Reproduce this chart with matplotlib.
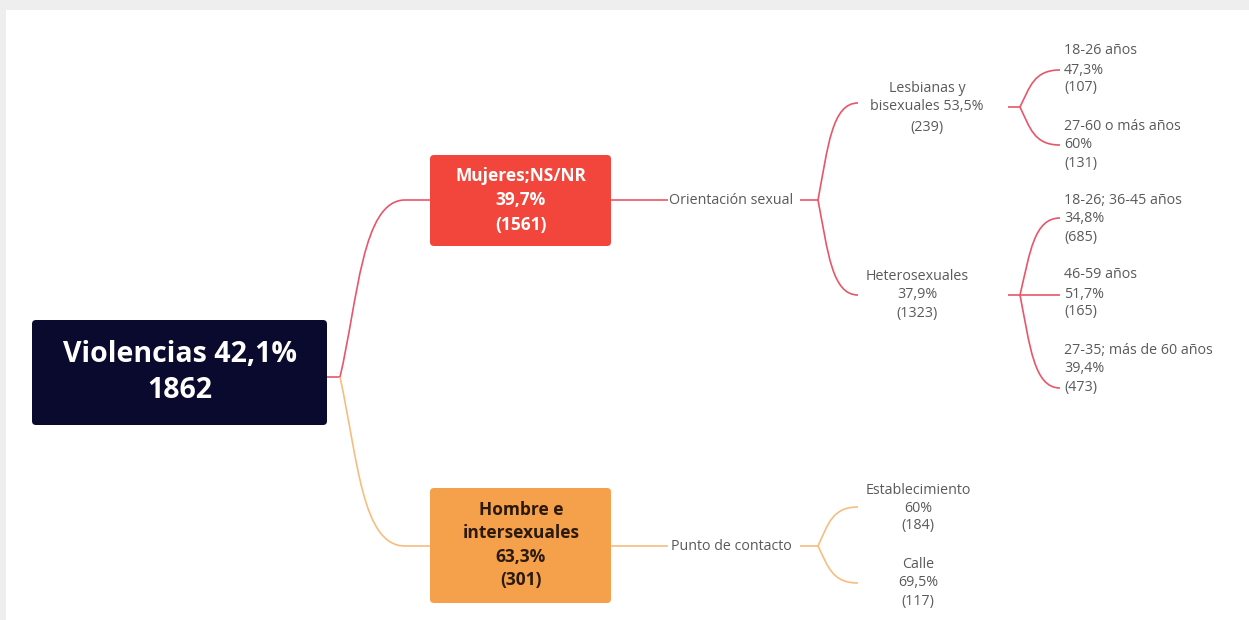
import matplotlib
matplotlib.use("Agg")
import matplotlib.pyplot as plt
from matplotlib.patches import FancyBboxPatch, PathPatch, Rectangle
from matplotlib.path import Path

# ---------------- data ----------------
root_label = ["Violencias 42,1%", "1862"]
level1_labels = [["Mujeres;NS/NR", "39,7%", "(1561)"],
                 ["Hombre e", "intersexuales", "63,3%", "(301)"]]
level2_labels = ["Orientación sexual", "Punto de contacto"]
orient_groups = [["Lesbianas y", "bisexuales 53,5%", "(239)"],
                 ["Heterosexuales", "37,9%", "(1323)"]]
lesb_ages = [["18-26 años", "47,3%", "(107)"],
             ["27-60 o más años", "60%", "(131)"]]
hetero_ages = [["18-26; 36-45 años", "34,8%", "(685)"],
               ["46-59 años", "51,7%", "(165)"],
               ["27-35; más de 60 años", "39,4%", "(473)"]]
contact_points = [["Establecimiento", "60%", "(184)"],
                  ["Calle", "69,5%", "(117)"]]

# ---------------- style ----------------
W, H = 1249, 620
RED = "#f2453b"
ORANGE = "#f5a04a"
NAVY = "#0a0a2e"
RED_LINE = "#e8566a"
ORANGE_LINE = "#f6bd80"
GRAY_TXT = "#5a5a5a"
FONT = ["Open Sans", "DejaVu Sans"]
SMALL = 10.3

fig = plt.figure(figsize=(W / 100, H / 100), dpi=100)
fig.patch.set_facecolor("#eeeeee")
ax = fig.add_axes([0, 0, 1, 1])
ax.set_xlim(0, W)
ax.set_ylim(H, 0)
ax.axis("off")

# white panel
ax.add_patch(Rectangle((6, 10), W - 6, H - 10, facecolor="white", edgecolor="none", zorder=0))


def box(x0, y0, x1, y1, color):
    ax.add_patch(FancyBboxPatch((x0 + 4, y0 + 4), x1 - x0 - 8, y1 - y0 - 8,
                                boxstyle="round,pad=4", facecolor=color,
                                edgecolor="none", zorder=3))


def lines_text(x, ys, labels, **kw):
    for y, t in zip(ys, labels):
        ax.text(x, y, t, va="center", family=FONT, zorder=4, **kw)


def curve(p0, p1, color):
    """bracket-like curve from junction p0 to horizontal end p1"""
    (x0, y0), (x1, y1) = p0, p1
    dx = x1 - x0
    verts = [(x0, y0),
             (x0 + dx * 0.25, y0 + (y1 - y0) * 0.55),
             (x0 + dx * 0.35, y1),
             (x1, y1)]
    codes = [Path.MOVETO, Path.CURVE4, Path.CURVE4, Path.CURVE4]
    ax.add_patch(PathPatch(Path(verts, codes), facecolor="none",
                           edgecolor=color, lw=1.2, zorder=2))


def hline(x0, x1, y, color):
    ax.plot([x0, x1], [y, y], color=color, lw=1.2, zorder=2, solid_capstyle="butt")


# ---------------- root ----------------
box(32, 320, 327, 425, NAVY)
lines_text(180, [355, 390], root_label, ha="center", color="white",
           fontsize=20.5, fontweight="bold")

# root -> level1 connectors
hline(327, 340, 377, RED_LINE)
ax.add_patch(PathPatch(Path([(340, 377), (358, 300), (362, 200), (405, 200), (430, 200)],
                            [Path.MOVETO, Path.CURVE4, Path.CURVE4, Path.CURVE4, Path.LINETO]),
                       facecolor="none", edgecolor=RED_LINE, lw=1.2, zorder=2))
ax.add_patch(PathPatch(Path([(340, 377), (358, 460), (362, 546), (405, 546), (430, 546)],
                            [Path.MOVETO, Path.CURVE4, Path.CURVE4, Path.CURVE4, Path.LINETO]),
                       facecolor="none", edgecolor=ORANGE_LINE, lw=1.2, zorder=2))

# ---------------- level 1 boxes ----------------
box(430, 155, 611, 246, RED)
lines_text(521, [176, 200, 225], level1_labels[0], ha="center", color="white",
           fontsize=12.5, fontweight="bold")
box(430, 488, 611, 603, ORANGE)
lines_text(521, [510, 533, 557, 580], level1_labels[1], ha="center", color="#2b1a0c",
           fontsize=12.5, fontweight="bold")

# ---------------- level 2 ----------------
hline(611, 668, 200, RED_LINE)
ax.text(731, 200, level2_labels[0], ha="center", va="center", family=FONT,
        fontsize=SMALL, color=GRAY_TXT, zorder=4)
hline(800, 818, 200, RED_LINE)

hline(611, 668, 546, ORANGE_LINE)
ax.text(731, 546, level2_labels[1], ha="center", va="center", family=FONT,
        fontsize=SMALL, color=GRAY_TXT, zorder=4)
hline(800, 818, 546, ORANGE_LINE)

# orientation branches
curve((818, 200), (858, 103), RED_LINE)
curve((818, 200), (858, 295), RED_LINE)
lines_text(927, [88, 107, 127], orient_groups[0], ha="center", color=GRAY_TXT, fontsize=SMALL)
lines_text(917, [276, 295, 313], orient_groups[1], ha="center", color=GRAY_TXT, fontsize=SMALL)

# lesbian ages
hline(1008, 1020, 107, RED_LINE)
curve((1020, 107), (1060, 70), RED_LINE)
curve((1020, 107), (1060, 145), RED_LINE)
lines_text(1064, [50, 70, 88], lesb_ages[0], ha="left", color=GRAY_TXT, fontsize=SMALL)
lines_text(1064, [127, 145, 164], lesb_ages[1], ha="left", color=GRAY_TXT, fontsize=SMALL)

# hetero ages
hline(1008, 1020, 295, RED_LINE)
curve((1020, 295), (1060, 218), RED_LINE)
hline(1020, 1060, 295, RED_LINE)
curve((1020, 295), (1060, 388), RED_LINE)
lines_text(1064, [200, 218, 237], hetero_ages[0], ha="left", color=GRAY_TXT, fontsize=SMALL)
lines_text(1064, [275, 294, 312], hetero_ages[1], ha="left", color=GRAY_TXT, fontsize=SMALL)
lines_text(1064, [350, 369, 387], hetero_ages[2], ha="left", color=GRAY_TXT, fontsize=SMALL)

# contact points
curve((818, 546), (858, 507), ORANGE_LINE)
curve((818, 546), (858, 583), ORANGE_LINE)
lines_text(918, [490, 508, 526], contact_points[0], ha="center", color=GRAY_TXT, fontsize=SMALL)
lines_text(918, [564, 583, 601], contact_points[1], ha="center", color=GRAY_TXT, fontsize=SMALL)

fig.savefig("out.png", dpi=100, facecolor=fig.get_facecolor())
